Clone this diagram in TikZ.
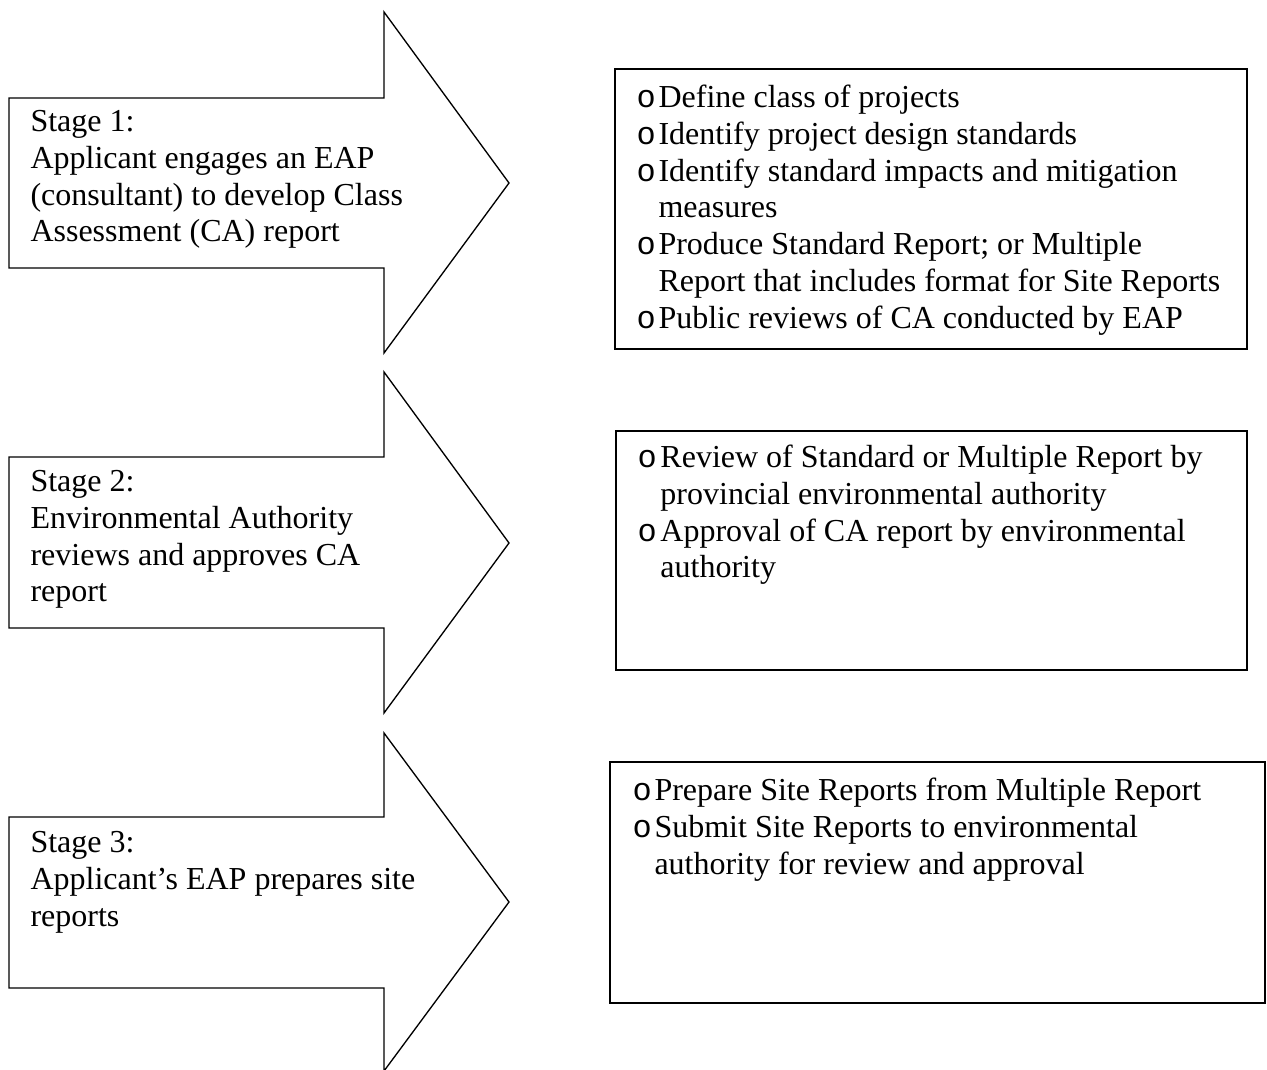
\documentclass[tikz,border=0pt]{standalone}
\usepackage{fontspec}
\setmainfont{Liberation Serif}
\newfontfamily\bulfont{Liberation Mono}
\usetikzlibrary{positioning}
\newcommand{\bul}[1]{\makebox[#1][l]{\bulfont o}}
\begin{document}
\begin{tikzpicture}[x=0.375pt,y=-0.375pt,
  arrowshape/.style={draw=black,line width=0.5pt,line join=miter},
  boxshape/.style={draw=black,line width=0.7pt,inner sep=0pt,anchor=north west},
  txt/.style={inner sep=0pt,anchor=north west,align=left,font={\fontsize{12}{13.8}\selectfont}}]
\useasboundingbox (0,0) rectangle (1267,1070);
% arrows
\draw[arrowshape] (9,98) -- (384,98) -- (384,12) -- (509,183) -- (384,353) -- (384,268) -- (9,268) -- cycle;
\draw[arrowshape] (9,457) -- (384,457) -- (384,372) -- (509,543) -- (384,713) -- (384,628) -- (9,628) -- cycle;
\draw[arrowshape] (9,817) -- (384,817) -- (384,733) -- (509,902) -- (384,1071) -- (384,988) -- (9,988) -- cycle;
% arrow texts
\node[txt] (s1) at (30,105.2) {\strut Stage 1:\\Applicant engages an EAP\\(consultant) to develop Class\\Assessment (CA) report};
\node[txt] (s2) at (30,465.2) {\strut Stage 2:\\Environmental Authority\\reviews and approves CA\\report};
\node[txt] (s3) at (30,826.2) {\strut Stage 3:\\Applicant’s EAP prepares site\\reports};
% boxes
\node[boxshape,minimum width=237pt,minimum height=105pt] (box1) at (614,68) {};
\node[boxshape,minimum width=236.6pt,minimum height=89.6pt] (box2) at (615,430) {};
\node[boxshape,minimum width=245.6pt,minimum height=90.4pt] (box3) at (609,761) {};
% box texts
\node[txt] (t1) at (636,81.2) {\strut\bul{8.25pt}Define class of projects\\
\bul{8.25pt}Identify project design standards\\
\bul{8.25pt}Identify standard impacts and mitigation\\
\hspace*{8.25pt}measures\\
\bul{8.25pt}Produce Standard Report; or Multiple\\
\hspace*{8.25pt}Report that includes format for Site Reports\\
\bul{8.25pt}Public reviews of CA conducted by EAP};
\node[txt] (t2) at (637,441.2) {\strut\bul{8.6pt}Review of Standard or Multiple Report by\\
\hspace*{8.6pt}provincial environmental authority\\
\bul{8.6pt}Approval of CA report by environmental\\
\hspace*{8.6pt}authority};
\node[txt] (t3) at (632,774.2) {\strut\bul{8.25pt}Prepare Site Reports from Multiple Report\\
\bul{8.25pt}Submit Site Reports to environmental\\
\hspace*{8.25pt}authority for review and approval};
\end{tikzpicture}
\end{document}
